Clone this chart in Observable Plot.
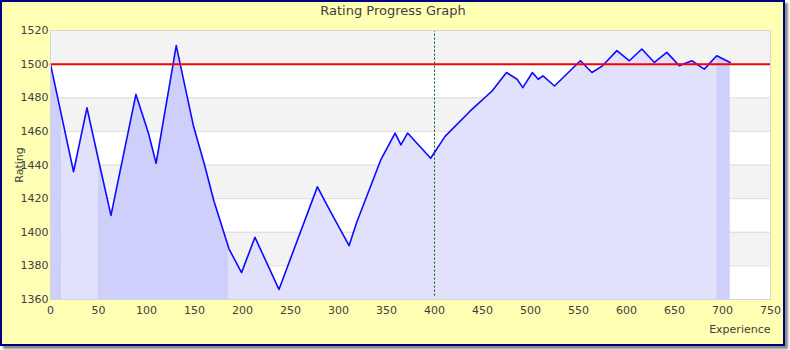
<!DOCTYPE html>
<html>
<head>
<meta charset="utf-8">
<script src="https://cdn.jsdelivr.net/npm/d3@7"></script>
<script src="https://cdn.jsdelivr.net/npm/@observablehq/plot@0.6"></script>
<style>
  html, body { margin: 0; padding: 0; background: #ffffff; }
  #wrap { position: relative; width: 790px; height: 350px; }
  #box { position: absolute; left: 0; top: 0; width: 785px; height: 346px; box-sizing: border-box;
         background: #ffffb4; border: 2px solid #000080; box-shadow: 3px 3px 2px #8a8a8a; }
  #title { position: absolute; left: 0; top: 3px; width: 786px; text-align: center;
           font: 13px "DejaVu Sans", sans-serif; line-height: 16px; color: #404040; }
  #chart { position: absolute; left: 0; top: 0; }
</style>
</head>
<body>
<div id="wrap">
  <div id="box"></div>
  <div id="chart"></div>
  <div id="title">Rating Progress Graph</div>
</div>
<script>
// ---- data ----
const experience = [0, 12, 24, 38, 50, 63, 89, 102, 110, 131, 149, 160, 170, 186, 199, 213, 238, 278, 291, 311, 319, 344, 359, 365, 372, 396, 411, 437, 460, 475, 486, 492, 502, 508, 513, 525, 552, 564, 575, 590, 603, 616, 629, 642, 655, 668, 681, 694, 708];
const rating     = [1500, 1468, 1436, 1474, 1443, 1410, 1482, 1459, 1441, 1511, 1463, 1441, 1419, 1390, 1376, 1397, 1366, 1427, 1413, 1392, 1406, 1443, 1459, 1452, 1459, 1444, 1457, 1472, 1484, 1495, 1491, 1486, 1495, 1491, 1493, 1487, 1502, 1495, 1499, 1508, 1502, 1509, 1501, 1507, 1499, 1502, 1497, 1505, 1501];
const shadeBreaks = [12, 50, 186, 694];   // experience values where the area shading alternates
const shadeColors = ["#cfcffb", "#e1e1fc"]; // dark, light
const xTicks = [0, 50, 100, 150, 200, 250, 300, 350, 400, 450, 500, 550, 600, 650, 700, 750];
const yTicks = [1360, 1380, 1400, 1420, 1440, 1460, 1480, 1500, 1520];
const targetRating = [1500];
const marker = [400];
const xLabel = ["Experience"];
const yLabel = "Rating";

// ---- derived tables ----
const points = experience.map((x, i) => ({x, r: rating[i]}));
const bounds = [experience[0], ...shadeBreaks, experience[experience.length - 1]];
const shaded = [];
for (let s = 0; s < bounds.length - 1; s++) {
  for (const p of points) if (p.x >= bounds[s] && p.x <= bounds[s + 1]) shaded.push({...p, seg: s, fill: shadeColors[s % 2]});
}
const bands = [];
for (let k = 1; k < yTicks.length - 1; k += 2) bands.push({lo: yTicks[k], hi: yTicks[k + 1]});
const xDom = [xTicks[0], xTicks[xTicks.length - 1]];
const yDom = [yTicks[0], yTicks[yTicks.length - 1]];

const chart = Plot.plot({
  width: 790, height: 350,
  marginLeft: 50, marginRight: 20, marginTop: 30, marginBottom: 51,
  style: {background: "transparent", fontFamily: "DejaVu Sans, sans-serif", fontSize: "11px", color: "#404040"},
  x: {domain: xDom},
  y: {domain: yDom},
  color: {type: "identity"},
  marks: [
    Plot.frame({fill: "#ffffff", stroke: null}),
    Plot.rect(bands, {x1: xDom[0], x2: xDom[1], y1: "lo", y2: "hi", fill: "#f3f3f3"}),
    Plot.ruleY(yTicks, {stroke: "#dcdcdc", strokeWidth: 1}),
    Plot.areaY(shaded, {x: "x", y1: yDom[0], y2: "r", z: "seg", fill: "fill"}),
    Plot.line(points, {x: "x", y: "r", stroke: "#0c0cff", strokeWidth: 1.6}),
    Plot.ruleY(targetRating, {stroke: "#ff0000", strokeWidth: 2}),
    Plot.ruleX(marker, {stroke: "#006400", strokeWidth: 1, strokeDasharray: "2,2", y1: yDom[0] + 2, y2: yDom[1]}),
    Plot.frame({stroke: "#d6d6d6"}),
    Plot.axisY({ticks: yTicks, tickSize: 0, tickPadding: 2, tickFormat: d3.format("d"), label: yLabel, labelAnchor: "center", labelArrow: "none", labelOffset: 35}),
    Plot.axisX({ticks: xTicks, tickSize: 0, tickPadding: 7, tickFormat: d3.format("d"), label: null}),
    Plot.text(xLabel, {frameAnchor: "bottom-right", dy: 30, textAnchor: "end", lineAnchor: "middle", fill: "#404040"})
  ]
});
document.getElementById("chart").appendChild(chart);
</script>
</body>
</html>
